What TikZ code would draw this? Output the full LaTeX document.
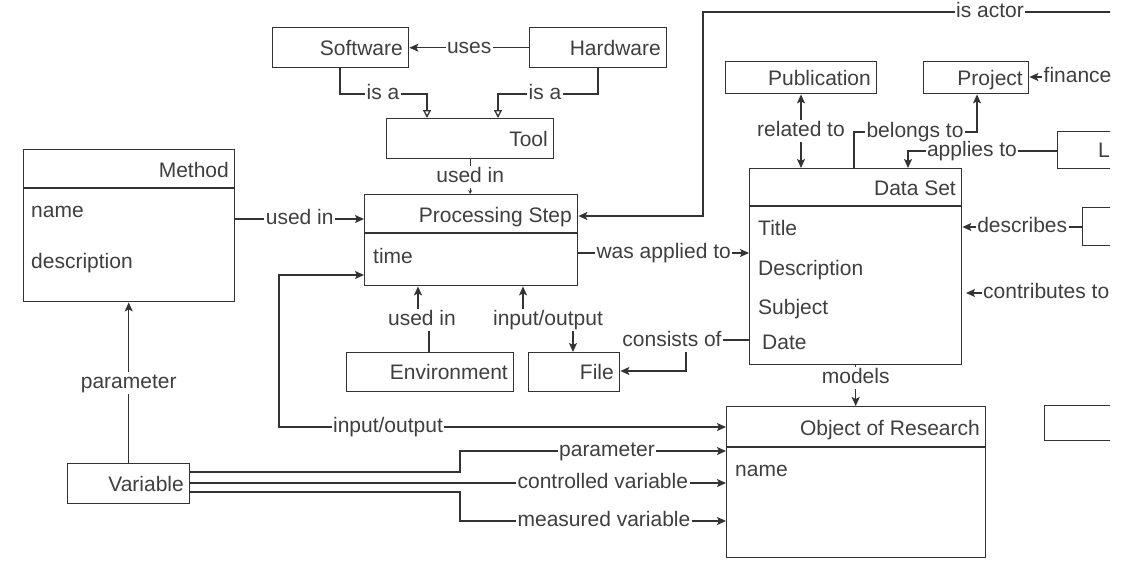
\documentclass[tikz,border=0pt]{standalone}
\usepackage{fontspec}
\setmainfont{Liberation Sans}
\usetikzlibrary{arrows.meta}
\definecolor{ln}{HTML}{333333}
\definecolor{tx}{HTML}{3F3F3F}
\newcommand\mkbox[5]{\node[box,minimum width=#4pt,minimum height=#5pt] (#1) at (#2,#3) {};}
\begin{document}
\begin{tikzpicture}[x=1pt,y=-1pt,
  font=\fontsize{21}{25}\selectfont,
  box/.style={draw=ln,line width=1.4pt,anchor=north west,inner sep=0pt,rectangle},
  ttl/.style={text=tx,inner sep=0pt,anchor=base east},
  attr/.style={text=tx,inner sep=0pt,anchor=base west},
  con/.style={draw=ln,line width=1.3pt},
  arr/.style={con,-{Stealth[length=9pt,width=8pt,inset=2pt]}},
  darr/.style={con,{Stealth[length=9pt,width=8pt,inset=2pt]}-{Stealth[length=9pt,width=8pt,inset=2pt]}},
  isa/.style={con,-{Triangle[open,length=8pt,width=8pt]}},
  lbl/.style={fill=white,text=tx,inner sep=1.5pt,text height=15pt,text depth=4pt},
]
\useasboundingbox (0,0) rectangle (1124,560);
\fill[white] (0,0) rectangle (1124,560);
\begin{scope}
\clip (0,0) rectangle (1110,560);
% boxes
\mkbox{sw}{272}{27}{136}{40}
\mkbox{hw}{529}{27}{137}{40}
\mkbox{tool}{386}{118}{167}{40}
\mkbox{ps}{364}{194}{213}{91}
\mkbox{meth}{23}{149}{211}{152}
\mkbox{env}{346}{352}{167}{39}
\mkbox{file}{528}{352}{91}{39}
\mkbox{pub}{725}{61}{151}{32}
\mkbox{proj}{923}{61}{105}{32}
\mkbox{lb}{1057}{131}{80}{37}
\mkbox{db}{1082}{207}{60}{38}
\mkbox{rb}{1044}{405}{90}{35}
\mkbox{ds}{749}{168}{212}{196}
\mkbox{obj}{726}{406}{259}{151}
\mkbox{var}{67}{463}{122}{40}
% header lines
\draw[ln,line width=1.4pt] (meth.north west) ++(0,39) -- ++(211,0);
\draw[ln,line width=1.4pt] (ps.north west) ++(0,39) -- ++(213,0);
\draw[ln,line width=1.4pt] (ds.north west) ++(0,38) -- ++(212,0);
\draw[ln,line width=1.4pt] (obj.north west) ++(0,41) -- ++(259,0);
% titles
\node[ttl] (t-sw) at (403,55) {Software};
\node[ttl] (t-hw) at (661,55) {Hardware};
\node[ttl] (t-tool) at (548,146) {Tool};
\node[ttl] (t-pub) at (871,85) {Publication};
\node[ttl] (t-proj) at (1023,85) {Project};
\node[ttl] (t-env) at (508,379) {Environment};
\node[ttl] (t-file) at (614,379) {File};
\node[ttl] (t-var) at (184,491) {Variable};
\node[attr] (t-lb) at (1098,157) {L};
\node[ttl] (t-meth) at (229,177) {Method};
\node[ttl] (t-ps) at (572,222) {Processing Step};
\node[ttl] (t-ds) at (956,195) {Data Set};
\node[ttl] (t-obj) at (980,435) {Object of Research};
% attributes
\node[attr] (a-mn) at (31,217) {name};
\node[attr] (a-md) at (31,268) {description};
\node[attr] (a-pt) at (373,263) {time};
\node[attr] (a-dt) at (758,235) {Title};
\node[attr] (a-dd) at (758,275) {Description};
\node[attr] (a-ds) at (758,314) {Subject};
\node[attr] (a-dda) at (762,349) {Date};
\node[attr] (a-on) at (735,476) {name};
% coordinates
\coordinate (b1) at (340,94); \coordinate (b2) at (427,94);
\coordinate (b3) at (598,94); \coordinate (b4) at (498,94);
\coordinate (m1) at (0,219);
\coordinate (a0) at (1130,12); \coordinate (a1) at (703,12); \coordinate (a2) at (0,216);
\coordinate (w) at (0,253);
\coordinate (e1) at (429,320); \coordinate (e2) at (418,320);
\coordinate (f1) at (523,320); \coordinate (f2) at (573,320);
\coordinate (c1) at (686,340); \coordinate (c2) at (686,371);
\coordinate (r) at (801,0);
\coordinate (g1) at (854,132); \coordinate (g2) at (977,132);
\coordinate (p1) at (908,151);
\coordinate (fi) at (1130,77);
\coordinate (d) at (0,227);
\coordinate (ct0) at (1130,293); \coordinate (ct1) at (966,293);
\coordinate (i1) at (279,275); \coordinate (i2) at (279,427);
\coordinate (v1) at (460,472); \coordinate (v2) at (460,451);
\coordinate (v3) at (0,483);
\coordinate (v4) at (460,492); \coordinate (v5) at (460,521);
% connectors
\draw[arr] (hw.west) -- node[lbl] (l-uses) {uses} (sw.east);
\draw[isa] (sw.south -| b1) -- (b1) -- (b2) -- (b2 |- tool.north);
\node[lbl] (l-isa1) at (383,94) {is a};
\draw[isa] (hw.south -| b3) -- (b3) -- (b4) -- (b4 |- tool.north);
\node[lbl] (l-isa2) at (545,94) {is a};
\draw[con,-{Stealth[length=4pt,width=4pt]}] (tool.south) -- (tool.south |- ps.north) node[lbl,midway] (l-ui1) {used in};
\draw[arr] (meth.east |- m1) -- node[lbl] (l-ui2) {used in} (ps.west |- m1);
\draw[arr] (a0) -- (a1) -- (a1 |- a2) -- (ps.east |- a2);
\node[lbl] (l-actor) at (990,12) {is actor};
\draw[arr] (ps.east |- w) -- node[lbl] (l-wat) {was applied to} (ds.west |- w);
\draw[arr] (env.north -| e1) -- (e1) -- (e2) -- (e2 |- ps.south);
\node[lbl] (l-ui3) at (422,320) {used in};
\draw[darr] (f1 |- ps.south) -- (f1) -- (f2) -- (f2 |- file.north);
\node[lbl] (l-io1) at (548,320) {input/output};
\draw[arr] (ds.west |- c1) -- (c1) -- (c2) -- (file.east |- c2);
\node[lbl] (l-co) at (672,341) {consists of};
\draw[darr] (pub.south -| r) -- node[lbl] (l-rel) {related to} (ds.north -| r);
\draw[arr] (ds.north -| g1) -- (g1) -- (g2) -- (g2 |- proj.south);
\node[lbl] (l-bel) at (915,132) {belongs to};
\draw[arr] (lb.west |- p1) -- (p1) -- (p1 |- ds.north);
\node[lbl] (l-app) at (972,151) {applies to};
\draw[arr] (fi) -- (proj.east |- fi);
\node[lbl,anchor=west] (l-fin) at (1042,77) {finance};
\draw[arr] (db.west |- d) -- node[lbl] (l-des) {describes} (ds.east |- d);
\draw[arr] (ct0) -- (ct1);
\node[lbl,anchor=west] (l-con) at (981.5,293) {contributes to};
\draw[arr] (ds.south) -- node[lbl,pos=0.3] (l-mod) {models} (ds.south |- obj.north);
\draw[darr] (ps.west |- i1) -- (i1) -- (i2) -- (obj.west |- i2);
\node[lbl] (l-io2) at (388,427) {input/output};
\draw[arr] (var.north) -- node[lbl] (l-par1) {parameter} (var.north |- meth.south);
\draw[arr] (var.east |- v1) -- (v1) -- (v2) -- (obj.west |- v2);
\node[lbl] (l-par2) at (607,451) {parameter};
\draw[arr] (var.east |- v3) -- node[lbl,pos=0.77] (l-ctl) {controlled variable} (obj.west |- v3);
\draw[arr] (var.east |- v4) -- (v4) -- (v5) -- (obj.west |- v5);
\node[lbl] (l-mea) at (604,521) {measured variable};
\end{scope}
\end{tikzpicture}
\end{document}
